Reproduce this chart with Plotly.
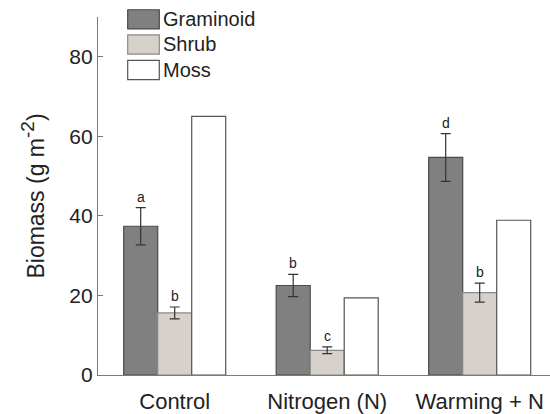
import plotly.graph_objects as go

categories = ["Control", "Nitrogen (N)", "Warming + N"]
series_names = ["Graminoid", "Shrub", "Moss"]
graminoid = [37.4, 22.5, 54.7]
graminoid_err = [4.7, 2.8, 6.0]
shrub = [15.6, 6.2, 20.7]
shrub_err = [1.5, 0.85, 2.4]
moss = [65.0, 19.4, 38.9]
graminoid_letters = ["a", "b", "d"]
shrub_letters = ["b", "c", "b"]
y_ticks = [0, 20, 40, 60, 80]

fills = ["#808080", "#d6d2cb", "#ffffff"]
outlines = ["#4a4a4a", "#8c8a86", "#555555"]

fig = go.Figure()
data = [(graminoid, graminoid_err), (shrub, shrub_err), (moss, None)]
for i, (vals, errs) in enumerate(data):
    kw = {}
    if errs is not None:
        kw["error_y"] = dict(type="data", array=errs, visible=True,
                             color="#333333", thickness=1.2, width=5)
    fig.add_trace(go.Bar(
        x=categories, y=vals, name=series_names[i],
        marker=dict(color=fills[i], line=dict(color=outlines[i], width=1.2)),
        offsetgroup=str(i), showlegend=False, **kw))

# significance letters
annotations = []
for vals, errs, letters, idx in [(graminoid, graminoid_err, graminoid_letters, 0),
                                 (shrub, shrub_err, shrub_letters, 1)]:
    for c, v, e, L in zip(categories, vals, errs, letters):
        annotations.append(dict(
            x=c, y=v + e, xref="x", yref="y", text=L, showarrow=False,
            xshift=(idx - 1) * 34, yshift=11, yanchor="middle",
            font=dict(family="Liberation Sans, Arial", size=14, color="#222222")))

# manual legend with large boxes
W, H, L, T = 452.0, 360.0, 98.0, 17.0
def px(xp):
    return (xp - L) / W
def py(yp):
    return (377.0 - yp) / H
shapes = []
box_tops = [9.7, 35.0, 60.7]
for i, name in enumerate(series_names):
    y0 = box_tops[i]
    y1 = y0 + 19.3
    shapes.append(dict(type="rect", xref="paper", yref="paper",
                       x0=px(127.7), x1=px(159.3), y0=py(y1), y1=py(y0),
                       fillcolor=fills[i], line=dict(color=outlines[i], width=1.2)))
    annotations.append(dict(xref="paper", yref="paper", x=px(161), y=py((y0 + y1) / 2),
                            text=name, showarrow=False, xanchor="left", yanchor="middle",
                            font=dict(family="Liberation Sans, Arial", size=20, color="#222222")))

fig.update_layout(
    width=550, height=414,
    margin=dict(l=98, r=0, t=17, b=37),
    paper_bgcolor="white", plot_bgcolor="white",
    barmode="group", bargap=0.331, bargroupgap=0,
    font=dict(family="Liberation Sans, Arial", color="#222222"),
    shapes=shapes, annotations=annotations,
    xaxis=dict(range=[-0.503, 2.461], showline=True, linecolor="#7a7a7a", linewidth=1.2,
               ticks="", showgrid=False, zeroline=False, ticklabelstandoff=6,
               tickfont=dict(size=22, color="#222222")),
    yaxis=dict(range=[0, 90], tickvals=y_ticks, showline=True, linecolor="#7a7a7a",
               linewidth=1.2, ticks="inside", ticklen=5, tickcolor="#7a7a7a",
               showgrid=False, zeroline=False,
               tickfont=dict(size=21, color="#222222"),
               title=dict(text="Biomass (g m<sup><span style=\"font-size:19px\">-2</span></sup>)",
                          font=dict(size=23, color="#222222"),
                          standoff=18)),
)

fig.write_html("out.html")
